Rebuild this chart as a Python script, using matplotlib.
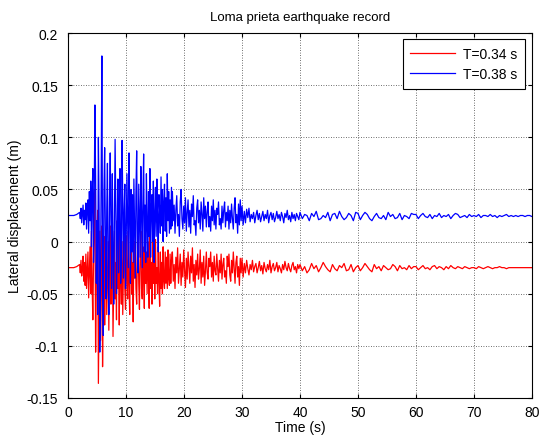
"""
Loma prieta earthquake record - lateral displacement response of two systems.
Values read off the reference figure (mm, converted to m below).
"""
import numpy as np
import matplotlib
matplotlib.use('Agg')
import matplotlib.pyplot as plt

plt.rcParams['font.family'] = ['Liberation Sans', 'DejaVu Sans']

# quiet start, 0 - 2 s
t_pre = [0.0, 0.5, 1.0, 1.5]
blue_pre_mm = [25, 25, 25, 26]
red_pre_mm = [-25, -25, -25, -24]

# strong shaking, 2 - 18 s
strong_step = 0.12
blue_strong_mm = [
    28, 22, 32, 18, 27, 35, 16, 30, 21, 37,
    12, 33, 40, 8, 48, 20, 58, -5, 45, 70,
    -20, 40, 131, 60, -40, 20, -70, 100, 30, -106,
    -40, 60, 178, -20, -90, 50, 90, 10, -55, 30,
    75, -30, -70, 40, 85, 15, -45, 65, -10, -60,
    20, 98, 35, -50, 10, 60, -30, 25, 70, -40,
    -15, 97, 40, -35, 30, 55, -45, 5, 65, 20,
    -25, 85, 30, -40, 50, -10, 45, -20, 60, 10,
    -35, 48, 87, -5, -30, 55, 20, -15, 72, 30,
    -25, 40, 84, -10, 35, -20, 65, 15, -15, 48,
    5, 70, -15, 30, 45, 0, 58, -20, 25, 52,
    5, 60, 20, -10, 45, 30, 8, 62, 15, 50,
    0, 38, 55, 10, 42, 5, 65, 20, 48, 8,
    40, 12, 52, 15,
]
red_strong_mm = [
    -22, -30, -18, -33, -26, -14, -38, -20, -42, -12,
    -45, -28, -10, -54, -30, -5, -50, 10, -40, -75,
    -20, 20, 50, -106, -40, 5, 30, -136, -60, 10,
    -95, -30, 15, -120, -50, 5, -80, -20, 10, -70,
    -35, 0, -85, -15, 15, -60, -30, 5, -91, -40,
    10, -55, -20, -75, 20, -45, -10, -80, 12, -35,
    -60, 0, -70, -25, 18, -45, -65, 5, -30, -55,
    10, -40, -70, -5, 15, -50, -20, -77, 0, -35,
    8, -45, -60, -15, 5, -40, -65, -10, 10, -45,
    -55, -5, -30, -64, 30, -40, -10, -50, 0, -35,
    -64, 8, -45, -20, -60, 5, -40, -10, -55, 2,
    -40, -25, -50, -5, -38, -62, -10, -45, -20, -50,
    -5, -38, -45, -10, -40, -15, -45, -8, -35, -42,
    -12, -40, -18, -10,
]

# decaying free vibration, 18 - 30 s
tail1_step = 0.15
blue_tail1_mm = [
    48, 20, 35, 8, 30, 44, 15, 26, 5, 38,
    50, 22, 12, 34, 18, 42, 10, 28, 40, 14,
    30, 8, 36, 24, 44, 16, 20, 6, 32, 40,
    18, 30, 12, 38, 26, 10, 42, 22, 34, 14,
    28, 38, 14, 24, 10, 34, 20, 40, 16, 30,
    12, 32, 26, 38, 16, 22, 12, 34, 18, 30,
    38, 14, 28, 20, 34, 12, 30, 18, 36, 22,
    12, 32, 42, 18, 26, 8, 36, 16, 40, 20,
]
red_tail1_mm = [
    -10, -38, -22, -45, -15, -30, -6, -40, -26, -12,
    -42, -20, -34, -8, -28, -44, -16, -36, -10, -24,
    -40, -14, -30, -6, -38, -22, -44, -18, -32, -12,
    -36, -26, -8, -40, -20, -34, -14, -42, -28, -10,
    -30, -36, -16, -24, -10, -34, -20, -38, -14, -28,
    -32, -12, -26, -38, -18, -30, -12, -36, -22, -16,
    -34, -28, -40, -14, -24, -12, -32, -38, -18, -30,
    -10, -26, -40, -20, -14, -34, -24, -42, -16, -30,
]

# 30 - 40 s
tail2_step = 0.2
blue_tail2_mm = [
    34, 16, 29, 18, 31, 23, 32, 19, 26, 22,
    28, 18, 25, 30, 21, 27, 19, 24, 29, 20,
    26, 22, 30, 18, 25, 28, 21, 27, 19, 23,
    29, 22, 26, 20, 28, 24, 18, 27, 23, 30,
    21, 25, 19, 28, 22, 26, 20, 27, 24, 21,
]
red_tail2_mm = [
    -16, -34, -21, -30, -18, -26, -32, -22, -27, -18,
    -29, -24, -21, -30, -25, -19, -28, -23, -31, -20,
    -26, -29, -22, -27, -18, -30, -24, -21, -28, -25,
    -20, -29, -23, -26, -30, -22, -27, -19, -25, -28,
    -21, -26, -29, -23, -20, -27, -24, -30, -22, -26,
]

# residual motion, 40 - 80 s
tail3_step = 0.4
blue_tail3_mm = [
    28, 22, 26, 25, 20, 27, 24, 29, 21, 22, 25, 23, 28, 20, 26, 27, 22, 29, 24, 21, 23, 27, 25, 20, 28,
    27, 21, 25, 28, 26, 22, 20, 24, 27, 23, 22, 25, 21, 28, 24, 26, 22, 23, 27, 21, 25, 24, 22, 27, 26,
    26, 22, 25, 27, 24, 23, 26, 22, 25, 24, 27, 23, 25, 24, 26, 22, 25, 27, 26, 23, 24, 25, 23, 26, 24,
    25, 24, 26, 23, 25, 25, 24, 26, 24, 25, 23, 25, 24, 25, 26, 24, 25, 24, 25, 24, 25, 25, 24, 25, 25, 24, 25,
]
red_tail3_mm = [
    -22, -28, -24, -30, -27, -21, -26, -23, -29, -25, -20, -24, -27, -29, -22, -26, -28, -23, -25, -21, -28, -27, -22, -29, -25,
    -23, -28, -25, -21, -24, -27, -29, -22, -26, -24, -28, -23, -25, -27, -26, -22, -24, -28, -23, -26, -25, -27, -23, -26, -24,
    -24, -27, -25, -23, -26, -25, -27, -24, -23, -26, -24, -25, -27, -24, -26, -23, -25, -26, -24, -25, -26, -24, -25, -26, -25,
    -25, -26, -24, -25, -26, -25, -24, -25, -26, -25, -25, -24, -25, -25, -26, -25, -25, -25, -25, -25, -25, -25, -25, -25, -25, -25,
]

yticks = [-0.15, -0.1, -0.05, 0, 0.05, 0.1, 0.15, 0.2]
ytick_labels = ['-0.15', '-0.1', '-0.05', '0', '0.05', '0.1', '0.15', '0.2']
xticks = list(range(0, 81, 10))


def build_series(pre_mm, strong_mm, tail1_mm, tail2_mm, tail3_mm):
    t_strong = 2.0 + strong_step * np.arange(len(strong_mm))
    t_tail1 = 18.0 + tail1_step * np.arange(len(tail1_mm))
    t_tail2 = 30.0 + tail2_step * np.arange(len(tail2_mm))
    t_tail3 = 40.0 + tail3_step * np.arange(len(tail3_mm))
    t = np.concatenate([t_pre, t_strong, t_tail1, t_tail2, t_tail3])
    y = np.concatenate([pre_mm, strong_mm, tail1_mm, tail2_mm, tail3_mm]) / 1000.0
    return t, y


t_red, y_red = build_series(red_pre_mm, red_strong_mm, red_tail1_mm, red_tail2_mm, red_tail3_mm)
t_blue, y_blue = build_series(blue_pre_mm, blue_strong_mm, blue_tail1_mm, blue_tail2_mm, blue_tail3_mm)

fig = plt.figure(figsize=(5.41, 4.39), dpi=100)
ax = fig.add_axes([68 / 541, 40 / 439, 464 / 541, 365 / 439])

ax.plot(t_red, y_red, color='#ff0000', linewidth=0.9, label='T=0.34 s')
ax.plot(t_blue, y_blue, color='#0000ff', linewidth=0.9, label='T=0.38 s')

ax.set_xlim(0, 80)
ax.set_ylim(-0.15, 0.2)
ax.set_xticks(xticks)
ax.set_yticks(yticks)
ax.set_yticklabels(ytick_labels)
ax.tick_params(direction='in', length=3, width=0.8, labelsize=10, pad=5,
               top=True, right=True, colors='black')
ax.tick_params(axis='y', pad=7)
ax.grid(True, color='0.25', linestyle=(0, (1, 2)), linewidth=0.6)
for sp in ax.spines.values():
    sp.set_linewidth(0.8)

ax.set_title("Loma prieta earthquake record", fontsize=9.5, pad=9)
ax.set_xlabel("Time (s)", fontsize=10, labelpad=1)
ax.set_ylabel("Lateral displacement (m)", fontsize=10, labelpad=3)

leg = ax.legend(loc='upper right', bbox_to_anchor=(0.985, 0.983), borderaxespad=0,
                fontsize=10, fancybox=False, edgecolor='black', framealpha=1,
                handlelength=3.2, handletextpad=0.6, borderpad=0.55, labelspacing=0.45)
leg.get_frame().set_linewidth(0.8)

plt.savefig("out.png", dpi=100)
plt.close()
